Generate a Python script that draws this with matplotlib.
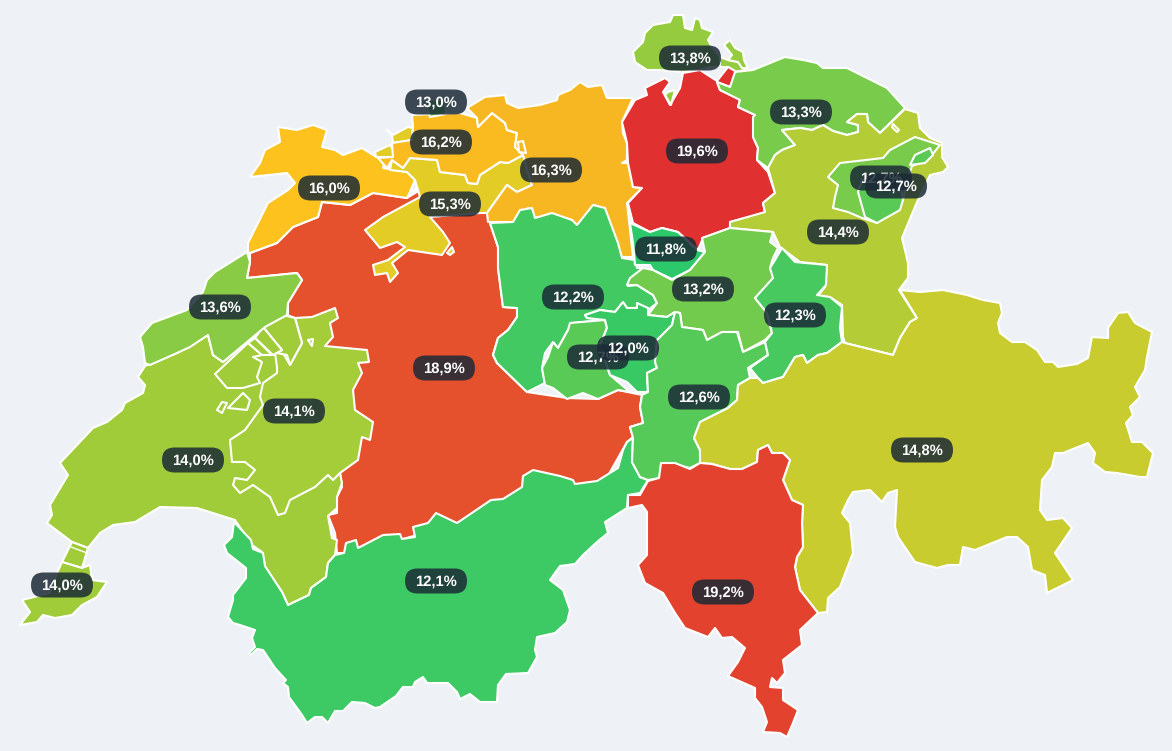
import matplotlib
matplotlib.use("Agg")
import matplotlib.pyplot as plt
from matplotlib.colors import to_rgb
from matplotlib.patches import FancyBboxPatch, Polygon
import numpy as np

plt.rcParams["font.family"] = ["Liberation Sans", "DejaVu Sans"]
plt.rcParams["text.hinting"] = "no_hinting"

BACKGROUND = "#eef2f6"

# rate -> colour stops
rate_stops = [11.8, 12.1, 13.3, 14.0, 14.8, 15.3, 16.0, 16.3, 18.9, 19.6]
colour_stops = ["#2dc86a", "#3dc963", "#78cb4b", "#a0cc3a", "#c8cc2f",
                "#e2cc25", "#fdc21d", "#f7b722", "#e5502d", "#e03030"]

# canton outlines, traced in pixels of the picture
BE = [(250,253),(277,243),(293,227),(318,217),(322,202),(350,205),(373,193),(407,198),(420,190),(440,205),(487,213),(490,223),(498,247),(498,268),(503,307),(517,308),(517,317),(508,330),(498,338),(493,355),(497,363),(527,392),(567,398),(598,399),(618,390),(642,395),(640,407),(643,423),(630,427),(633,437),(627,442),(600,490),(500,510),(400,540),(345,553),(337,553),(335,533),(328,515),(337,513),(337,497),(342,487),(340,473),(320,400),(310,340),(288,315),(288,303),(302,280),(297,273),(247,278),(250,262)]
VD = [(145,366),(177,353),(208,335),(213,355),(223,362),(265,327),(287,315),(295,318),(340,473),(342,483),(337,497),(337,508),(328,516),(332,538),(337,540),(335,555),(328,563),(326,577),(311,588),(309,595),(288,605),(282,592),(265,567),(262,552),(252,545),(235,520),(197,508),(160,507),(135,522),(113,525),(100,533),(88,548),(72,542),(47,523),(52,515),(50,505),(68,475),(60,463),(93,428),(107,422),(122,410),(125,403),(143,393),(145,385),(138,377)]
VD_LOBE_A = [(215,374),(248,343),(262,355),(253,357),(262,362),(257,377),(260,383),(243,388),(227,388)]
VD_LOBE_B = [(263,327),(283,315),(295,318),(302,343),(290,365),(287,355),(277,353),(282,350)]
VD_LOBE_C = [(255,338),(263,327),(282,350),(273,355)]
VD_LOBE_D = [(248,343),(255,338),(272,355),(262,355)]
VD_SPOT_A = [(228,408),(243,393),(250,400),(247,410)]
VD_SPOT_B = [(217,410),(222,402),(227,403),(222,413)]
VD_SPOT_C = [(308,340),(313,339),(312,346)]
VD_CELIGNY = [(72,542),(88,548),(82,568),(62,562)]
FR = [(340,473),(358,460),(362,437),(370,440),(373,422),(355,410),(353,390),(362,373),(358,363),(369,362),(367,350),(325,346),(333,337),(330,323),(338,318),(335,308),(312,317),(295,318),(302,343),(290,365),(283,353),(275,353),(277,367),(277,373),(263,383),(260,397),(263,405),(245,430),(230,440),(232,462),(245,462),(255,470),(247,480),(235,478),(233,485),(240,493),(253,485),(270,497),(278,515),(285,513),(290,500),(315,487),(328,475),(333,480)]
NE = [(140,337),(152,323),(187,310),(203,292),(207,280),(215,272),(247,252),(250,262),(247,278),(297,273),(302,280),(288,303),(287,315),(265,327),(223,362),(213,355),(208,335),(190,347),(177,353),(150,365),(145,363),(143,347)]
GE = [(62,562),(82,568),(90,565),(92,580),(107,582),(97,597),(82,605),(72,615),(55,618),(43,615),(37,622),(20,625),(30,612),(22,600),(50,593),(57,573)]
VS = [(234,522),(251,540),(253,549),(263,553),(265,566),(282,592),(288,605),(309,595),(311,588),(326,577),(328,563),(335,555),(344,553),(346,543),(356,540),(358,548),(383,535),(400,534),(402,539),(415,537),(413,527),(428,523),(436,513),(457,523),(491,500),(503,499),(522,487),(523,476),(533,470),(560,476),(573,480),(575,484),(597,481),(618,468),(623,450),(627,442),(633,438),(632,462),(640,477),(648,480),(640,493),(628,495),(627,508),(605,522),(608,533),(597,542),(583,555),(575,564),(560,566),(550,580),(563,590),(570,610),(567,622),(555,633),(537,637),(535,650),(537,657),(528,673),(506,674),(498,685),(497,702),(480,702),(470,694),(460,699),(457,692),(448,683),(427,683),(423,677),(415,682),(413,687),(403,687),(396,696),(380,707),(375,708),(365,703),(352,702),(343,711),(335,711),(328,723),(322,717),(315,717),(307,723),(302,715),(289,697),(288,687),(283,683),(286,680),(275,668),(263,650),(257,649),(251,655),(249,653),(255,647),(252,638),(255,630),(240,625),(233,623),(228,617),(233,600),(233,595),(246,578),(246,568),(227,553),(224,545),(232,537)]
JU = [(248,252),(248,243),(268,203),(288,190),(295,183),(287,173),(250,177),(260,163),(265,150),(280,142),(278,127),(297,130),(313,125),(327,130),(322,147),(335,150),(343,155),(362,148),(373,155),(377,157),(385,160),(383,168),(407,172),(415,180),(410,192),(407,198),(373,193),(350,205),(322,202),(318,217),(293,227),(277,243),(250,253)]
SO = [(390,170),(392,160),(403,168),(410,158),(437,160),(440,172),(465,175),(468,183),(477,184),(480,175),(500,162),(508,163),(523,155),(532,185),(517,192),(507,185),(487,213),(480,213),(430,217),(443,232),(450,243),(442,255),(408,250),(392,263),(398,273),(390,282),(387,273),(375,275),(373,265),(388,260),(405,247),(397,242),(380,248),(365,230),(383,217),(420,197),(415,180),(407,172)]
SO_SPOT_A = [(387,130),(393,135),(408,127),(413,128),(412,140),(393,143),(392,135)]
SO_SPOT_B = [(375,152),(390,145),(393,150),(393,157),(376,157)]
SO_SPOT_C = [(447,253),(452,247),(454,252),(450,255)]
BE_SPOT = [(412,192),(421,185),(420,190)]
BL = [(412,115),(460,113),(477,118),(478,127),(492,113),(505,123),(507,130),(517,133),(515,147),(523,155),(508,163),(500,162),(480,175),(477,184),(468,183),(465,175),(440,172),(437,160),(410,158),(403,168),(392,160),(387,168),(378,158),(393,157),(392,143),(412,140),(413,127)]
BS = [(425,100),(445,100),(446,114),(430,117)]
AG = [(633,98),(622,122),(623,133),(627,143),(627,160),(622,163),(628,163),(633,187),(642,188),(627,203),(633,257),(622,257),(617,245),(605,210),(595,205),(578,227),(572,220),(552,215),(535,218),(528,208),(513,222),(488,222),(487,213),(507,185),(517,192),(532,185),(523,155),(515,147),(517,133),(507,130),(505,123),(492,113),(478,127),(477,118),(467,108),(485,97),(505,95),(507,103),(518,108),(540,105),(557,100),(558,95),(570,90),(580,82),(588,87),(602,85),(607,98)]
AG_SPOT = [(518,142),(523,141),(526,153),(519,152)]
ZH = [(635,100),(647,95),(645,88),(665,78),(670,82),(663,92),(670,105),(680,88),(683,73),(700,70),(717,81),(728,67),(737,72),(730,87),(717,82),(720,90),(737,98),(740,100),(738,107),(755,115),(753,137),(758,148),(757,160),(768,172),(775,193),(763,203),(765,213),(730,222),(730,228),(703,238),(698,250),(678,232),(662,228),(650,232),(633,223),(628,203),(642,188),(633,187),(628,163),(627,143),(622,122)]
ZH_SPOT = [(668,92),(675,90),(671,105),(665,95)]
SH = [(633,52),(635,62),(647,70),(660,70),(683,72),(700,70),(710,67),(720,67),(720,57),(712,47),(708,40),(713,32),(702,28),(700,20),(695,18),(692,30),(685,28),(683,15),(673,15),(670,22),(653,25),(645,33),(643,42)]
SH_SPOT = [(724,45),(730,40),(735,48),(743,52),(744,60),(748,68),(742,68),(738,62),(728,60),(732,55)]
SH_STRIP = [(720,57),(728,60),(738,62),(745,70),(735,72),(728,67),(720,67)]
TG = [(735,72),(753,70),(785,57),(803,60),(817,63),(823,68),(847,68),(887,88),(905,108),(880,133),(873,127),(868,122),(867,114),(857,114),(847,122),(858,125),(858,132),(847,135),(833,131),(823,125),(812,130),(800,128),(782,130),(795,145),(782,150),(775,155),(768,168),(757,160),(758,148),(753,137),(753,117),(755,115),(738,107),(740,100),(720,90),(717,82),(730,87)]
SG = [(905,109),(918,113),(920,128),(930,138),(942,143),(942,157),(948,167),(943,172),(930,175),(917,202),(902,238),(908,263),(908,278),(899,290),(917,318),(910,322),(900,338),(893,355),(845,343),(843,337),(842,305),(830,297),(817,297),(825,287),(827,265),(800,262),(780,247),(773,232),(730,228),(730,222),(765,212),(763,203),(775,193),(768,168),(775,155),(782,150),(795,145),(782,130),(800,128),(812,130),(823,125),(833,131),(847,135),(858,132),(858,125),(847,122),(857,114),(867,114),(868,122),(880,133)]
SG_SPOT = [(893,124),(899,130),(897,132),(892,127)]
AR = [(840,163),(883,158),(890,150),(915,137),(940,145),(928,160),(912,166),(908,178),(903,200),(877,223),(862,218),(848,212),(833,208),(835,197),(838,185),(828,177)]
AI = [(858,192),(862,180),(900,182),(903,200),(900,210),(877,223),(865,217)]
AI_SPOT = [(910,165),(915,155),(930,148),(933,155),(925,163)]
GL = [(782,248),(795,262),(827,265),(826,285),(817,295),(830,297),(842,307),(840,328),(842,342),(827,353),(818,355),(807,363),(803,355),(795,357),(783,377),(763,383),(758,378),(750,368),(768,355),(765,342),(772,333),(767,313),(755,298),(773,278),(770,268),(775,260)]
SZ = [(702,238),(730,228),(773,232),(770,242),(778,248),(773,258),(770,268),(775,278),(755,298),(767,313),(772,333),(765,340),(743,352),(738,332),(722,332),(707,340),(703,330),(682,327),(680,313),(675,312),(667,317),(648,315),(657,303),(653,295),(637,285),(627,285),(630,278),(643,268),(653,270),(672,280),(690,270),(705,252)]
ZG = [(630,223),(650,232),(662,228),(678,232),(697,250),(705,252),(690,270),(672,279),(653,270),(650,265),(635,265),(633,243)]
LU = [(490,223),(513,222),(520,210),(532,208),(535,218),(552,213),(572,220),(577,225),(593,205),(605,208),(618,243),(622,258),(635,260),(637,268),(643,268),(630,280),(628,286),(637,285),(653,295),(657,303),(648,310),(637,303),(637,308),(627,308),(623,302),(615,312),(600,310),(585,315),(587,318),(605,320),(572,323),(568,330),(558,348),(553,342),(545,353),(542,368),(545,383),(527,392),(497,363),(493,355),(498,338),(508,330),(517,317),(517,308),(503,307),(498,268),(498,247)]
OW = [(570,323),(605,320),(607,328),(600,345),(610,375),(630,392),(618,390),(598,399),(583,393),(567,399),(553,388),(545,385),(542,368),(548,357),(553,342),(558,348),(568,330)]
NW = [(585,315),(600,310),(615,312),(623,302),(627,308),(637,308),(637,303),(648,308),(648,315),(667,317),(675,312),(672,325),(657,340),(655,362),(657,368),(647,373),(648,392),(637,392),(627,382),(610,375),(600,345),(607,328),(605,320),(587,318)]
UR = [(675,312),(680,313),(682,327),(703,330),(707,340),(722,332),(737,332),(743,352),(765,342),(768,355),(748,368),(750,378),(738,385),(737,400),(728,408),(700,422),(694,438),(700,450),(700,463),(690,468),(677,465),(662,463),(660,478),(648,480),(640,477),(632,462),(633,438),(630,427),(643,423),(640,407),(642,395),(648,392),(647,373),(657,368),(655,362),(657,340),(672,325)]
TI = [(628,495),(640,495),(648,481),(659,478),(661,463),(675,463),(690,469),(700,463),(712,464),(730,469),(742,469),(757,462),(758,450),(768,445),(772,453),(783,453),(790,460),(783,480),(792,500),(803,505),(802,523),(803,547),(797,557),(795,567),(800,590),(818,613),(800,630),(802,645),(783,660),(785,673),(777,683),(772,678),(770,687),(783,688),(783,700),(798,710),(793,723),(787,737),(780,733),(763,732),(767,722),(762,707),(755,698),(755,688),(728,676),(738,662),(745,648),(732,637),(722,638),(715,628),(708,637),(685,628),(675,613),(663,593),(645,583),(638,565),(647,555),(647,512),(642,505),(628,508)]
GR = [(694,438),(700,422),(728,408),(737,400),(738,385),(750,378),(758,378),(763,383),(783,377),(795,357),(803,355),(807,363),(818,355),(827,353),(842,342),(845,343),(893,355),(900,338),(910,322),(917,318),(900,290),(920,292),(943,290),(967,295),(983,300),(1000,303),(1002,313),(998,323),(1000,333),(1012,342),(1025,342),(1037,350),(1045,362),(1053,362),(1058,367),(1077,364),(1088,358),(1092,337),(1108,338),(1108,328),(1118,313),(1128,312),(1135,323),(1152,332),(1147,357),(1145,370),(1135,387),(1140,397),(1130,407),(1133,415),(1126,423),(1132,442),(1142,442),(1153,453),(1147,477),(1140,477),(1117,473),(1105,472),(1093,463),(1095,453),(1088,443),(1078,447),(1063,453),(1055,453),(1052,467),(1042,480),(1040,510),(1047,520),(1063,518),(1072,528),(1055,553),(1073,580),(1047,593),(1045,575),(1032,570),(1028,547),(1017,537),(1007,537),(975,550),(963,547),(960,565),(948,565),(937,568),(915,562),(898,537),(895,527),(897,490),(888,493),(882,502),(870,490),(853,492),(848,500),(842,513),(850,523),(853,553),(840,587),(828,598),(827,612),(818,613),(800,590),(795,567),(797,557),(803,547),(802,523),(803,505),(792,500),(783,480),(790,460),(783,453),(772,453),(768,445),(758,450),(757,462),(742,469),(730,469),(712,464),(700,463),(700,450)]

# (outline, rate) in drawing order, later ones sit on top
shapes = [
    (BE, 18.9), (VD, 14.0), (FR, 14.1), (VD_LOBE_A, 14.0), (VD_LOBE_B, 14.0),
    (VD_LOBE_C, 14.0), (VD_LOBE_D, 14.0), (VD_SPOT_A, 14.0), (VD_SPOT_B, 14.0),
    (VD_SPOT_C, 14.0), (VD_CELIGNY, 14.0), (NE, 13.6), (GE, 14.0), (VS, 12.1),
    (JU, 16.0), (BE_SPOT, 18.9), (SO, 15.3), (SO_SPOT_A, 15.3), (SO_SPOT_B, 15.3),
    (SO_SPOT_C, 15.3), (BL, 16.2), (BS, 13.0), (AG, 16.3), (AG_SPOT, 16.3),
    (SH, 13.8), (SH_STRIP, 13.8), (SH_SPOT, 13.8), (ZH, 19.6), (ZH_SPOT, 13.8), (TG, 13.3),
    (SG, 14.4), (SG_SPOT, 14.4), (AR, 13.3), (AI, 12.7), (AI_SPOT, 12.7),
    (LU, 12.2), (ZG, 11.8), (SZ, 13.2), (OW, 12.7), (NW, 12.0), (UR, 12.6),
    (GL, 12.3), (GR, 14.8), (TI, 19.2),
]

# labels in drawing order
label_rates = [13.8, 13.3, 13.0, 16.2, 19.6, 12.7, 12.7, 16.3, 16.0, 15.3, 14.4, 11.8, 12.2,
               13.2, 13.6, 12.3, 12.7, 12.0, 18.9, 12.6, 14.1, 14.0, 14.8, 12.1, 14.0, 19.2]
label_x = [690, 801, 436, 441, 697, 881, 896, 551, 329, 450, 838, 666, 573,
           703, 220, 795, 598, 628, 444, 699, 294, 193, 922, 436, 62, 723]
label_y = [58, 112, 102, 142, 151, 178, 186, 170, 188, 204, 232, 249, 297,
           289, 307, 315, 357, 348, 368, 397, 411, 460, 450, 581, 585, 592]


def rate_colour(rate):
    rgb = np.array([to_rgb(c) for c in colour_stops])
    return [np.interp(rate, rate_stops, rgb[:, i]) for i in range(3)]


fig = plt.figure(figsize=(11.72, 7.51), dpi=100, facecolor=BACKGROUND)
ax = fig.add_axes([0, 0, 1, 1])
ax.set_xlim(0, 1172)
ax.set_ylim(751, 0)
ax.axis("off")

for outline, rate in shapes:
    ax.add_patch(Polygon(outline, closed=True, facecolor=rate_colour(rate),
                         edgecolor="white", linewidth=1.5, joinstyle="round"))

# the line across Celigny
ax.plot([71, 87], [547, 553], color="white", lw=1)

# each label gets its own zorder so a later pill covers an earlier text
for i, (rate, x, y) in enumerate(zip(label_rates, label_x, label_y)):
    ax.add_patch(FancyBboxPatch((x - 31, y - 12.5), 62, 25,
                                boxstyle="round,pad=0,rounding_size=12.5",
                                facecolor="#1b2a36", alpha=0.85, linewidth=0,
                                zorder=10 + 2 * i))
    ax.text(x, y + 0.5, f"{rate:.1f}".replace(".", ",") + "%", color="white",
            fontsize=10.6, fontweight="bold", ha="center", va="center",
            zorder=11 + 2 * i)

fig.savefig("out.png", dpi=100, facecolor=BACKGROUND)
